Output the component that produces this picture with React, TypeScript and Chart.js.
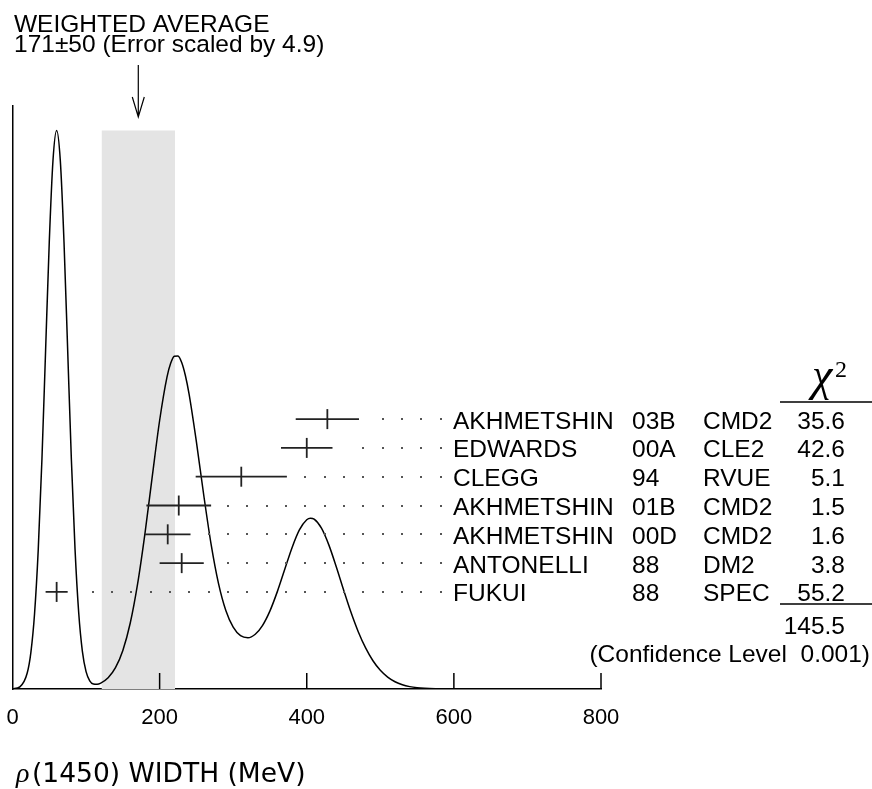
import React, { useEffect, useRef } from 'react';
import { Chart, registerables } from 'chart.js';

Chart.register(...registerables);

// ---- Data ----
const names = ['AKHMETSHIN', 'EDWARDS', 'CLEGG', 'AKHMETSHIN', 'AKHMETSHIN', 'ANTONELLI', 'FUKUI'];
const years = ['03B', '00A', '94', '01B', '00D', '88', '88'];
const experiments = ['CMD2', 'CLE2', 'RVUE', 'CMD2', 'CMD2', 'DM2', 'SPEC'];
const values = [428, 400, 311, 226, 211, 230, 60];
const errors = [43, 35, 62, 44, 31, 30, 15];
const chi2 = ['35.6', '42.6', '5.1', '1.5', '1.6', '3.8', '55.2'];
const chi2Total = '145.5';
const confidenceLevel = '0.001';
const avgValue = 171;
const avgError = 50;
const errorScale = '4.9';
const xTicks = [0, 200, 400, 600, 800];

// ideogram curve (MeV, arbitrary height units)
const curveX = [0, 10, 20, 25, 30, 35, 40, 45, 50, 55, 60, 65, 70, 75, 80, 85, 90, 95, 100, 105, 110, 115, 120, 130, 140, 150, 160, 170, 180, 190, 200, 210, 215, 220, 225, 230, 235, 240, 250, 260, 270, 280, 290, 300, 310, 320, 330, 340, 350, 360, 370, 380, 390, 400, 405, 410, 420, 430, 440, 450, 460, 470, 480, 490, 500, 510, 520, 530, 540, 550, 560, 575, 600, 650, 700, 800];
const curveY = [0.015, 0.172, 1.27, 2.92, 6.01, 11.09, 18.27, 26.96, 35.59, 42.04, 44.45, 42.05, 35.6, 26.97, 18.3, 11.13, 6.07, 3.0, 1.38, 0.654, 0.401, 0.379, 0.474, 0.9, 1.7, 3.07, 5.23, 8.34, 12.35, 16.92, 21.37, 24.82, 25.92, 26.49, 26.51, 25.99, 24.95, 23.49, 19.67, 15.42, 11.51, 8.41, 6.25, 4.92, 4.24, 4.08, 4.36, 5.07, 6.22, 7.75, 9.51, 11.25, 12.66, 13.47, 13.59, 13.52, 12.8, 11.47, 9.75, 7.9, 6.12, 4.56, 3.27, 2.25, 1.49, 0.95, 0.58, 0.34, 0.19, 0.1, 0.05, 0.016, 0.002, 0, 0, 0];

const SANS = '"Liberation Sans", Arial, Helvetica, sans-serif';
const SERIF = '"Liberation Serif", "Times New Roman", serif';
const FONT_SIZE = 24.5;

const overlayPlugin = {
  id: 'pdgOverlay',
  afterDraw(chart: any) {
    const ctx = chart.ctx as CanvasRenderingContext2D;
    const xs = chart.scales.x;
    const rs = chart.scales.rows;
    const area = chart.chartArea;
    ctx.save();

    // inward tick marks
    ctx.strokeStyle = '#000';
    ctx.lineWidth = 1.5;
    xTicks.slice(1).forEach((v) => {
      const px = xs.getPixelForValue(v);
      ctx.beginPath();
      ctx.moveTo(px, area.bottom);
      ctx.lineTo(px, area.bottom - 16);
      ctx.stroke();
    });

    // dotted leaders
    ctx.fillStyle = '#555';
    const dotEnd = 440.7;
    const dotStep = 19.33;
    values.forEach((v, i) => {
      const y = rs.getPixelForValue(i);
      const barEnd = xs.getPixelForValue(v + errors[i]);
      for (let x = dotEnd; x >= barEnd + 15; x -= dotStep) {
        ctx.fillRect(Math.round(x) - 1, Math.round(y) - 1, 2, 2);
      }
    });

    // table text
    ctx.fillStyle = '#000';
    ctx.font = `${FONT_SIZE}px ${SANS}`;
    ctx.textBaseline = 'alphabetic';
    names.forEach((n, i) => {
      const y = rs.getPixelForValue(i) + 9.5;
      ctx.textAlign = 'left';
      ctx.fillText(n, 453, y);
      ctx.fillText(years[i], 632, y);
      ctx.fillText(experiments[i], 703, y);
      ctx.textAlign = 'right';
      ctx.fillText(chi2[i], 845, y);
    });
    ctx.textAlign = 'right';
    ctx.fillText(chi2Total, 845, 633.5);
    ctx.fillText(`(Confidence Level  ${confidenceLevel})`, 870, 661.5);

    // chi^2 header and rules
    ctx.textAlign = 'center';
    ctx.font = `italic 46px ${SERIF}`;
    ctx.fillText('\u03C7', 822, 390);
    ctx.textAlign = 'left';
    ctx.font = `24px ${SERIF}`;
    ctx.fillText('2', 835, 377);
    ctx.lineWidth = 1.5;
    ctx.beginPath();
    ctx.moveTo(780, 402);
    ctx.lineTo(872, 402);
    ctx.moveTo(780, 604);
    ctx.lineTo(872, 604);
    ctx.stroke();

    // title
    ctx.font = `${FONT_SIZE}px ${SANS}`;
    ctx.textAlign = 'left';
    ctx.fillText('WEIGHTED AVERAGE', 14, 32);
    ctx.fillText(`${avgValue}\u00B1${avgError} (Error scaled by ${errorScale})`, 14, 52);

    // arrow
    const ax = xs.getPixelForValue(avgValue);
    ctx.lineWidth = 1.2;
    ctx.beginPath();
    ctx.moveTo(ax, 65);
    ctx.lineTo(ax, 117);
    ctx.moveTo(ax - 6, 97);
    ctx.lineTo(ax, 117);
    ctx.lineTo(ax + 6, 97);
    ctx.stroke();

    // x-axis title
    ctx.font = `italic 28px ${SERIF}`;
    ctx.fillText('\u03C1', 16, 782);
    ctx.font = `26.5px "DejaVu Sans", sans-serif`;
    ctx.fillText('(1450) WIDTH (MeV)', 32, 782);

    ctx.restore();
  },
};

export default function App() {
  const ref = useRef<HTMLCanvasElement>(null);

  useEffect(() => {
    if (!ref.current) return;
    const bandTop = Math.max(...curveY);
    const barData: any[] = [];
    values.forEach((v, i) => {
      barData.push({ x: v - errors[i], y: i });
      barData.push({ x: v + errors[i], y: i });
      barData.push({ x: v + errors[i], y: null });
    });

    const chart = new Chart(ref.current, {
      type: 'line',
      data: {
        datasets: [
          {
            label: 'centers',
            type: 'scatter',
            data: values.map((v, i) => ({ x: v, y: i })),
            xAxisID: 'x',
            yAxisID: 'rows',
            pointStyle: 'line',
            rotation: 90,
            pointRadius: 10,
            borderColor: '#222',
            backgroundColor: '#222',
            borderWidth: 1.8,
            clip: false,
          } as any,
          {
            label: 'bars',
            data: barData,
            xAxisID: 'x',
            yAxisID: 'rows',
            borderColor: '#222',
            borderWidth: 1.8,
            pointRadius: 0,
            spanGaps: false,
            fill: false,
            clip: false,
          } as any,
          {
            label: 'ideogram',
            data: curveX.map((x, i) => ({ x, y: curveY[i] })),
            xAxisID: 'x',
            yAxisID: 'y',
            borderColor: '#000',
            borderWidth: 1.5,
            pointRadius: 0,
            cubicInterpolationMode: 'monotone',
            fill: false,
          } as any,
          {
            label: 'band',
            data: [
              { x: avgValue - avgError, y: bandTop },
              { x: avgValue + avgError, y: bandTop },
            ],
            xAxisID: 'x',
            yAxisID: 'y',
            borderWidth: 0,
            borderColor: 'rgba(0,0,0,0)',
            backgroundColor: '#e4e4e4',
            pointRadius: 0,
            fill: 'origin',
          } as any,
        ],
      },
      options: {
        animation: false,
        responsive: false,
        devicePixelRatio: 1,
        layout: { padding: { left: 12.5, right: 271, top: 106, bottom: 0 } },
        plugins: { legend: { display: false }, tooltip: { enabled: false } },
        scales: {
          x: {
            type: 'linear',
            axis: 'x',
            position: 'bottom',
            min: 0,
            max: 800,
            afterBuildTicks: (s: any) => {
              s.ticks = xTicks.map((v) => ({ value: v }));
            },
            afterFit: (s: any) => {
              s.height = 100;
              s.paddingLeft = 0;
              s.paddingRight = 0;
            },
            ticks: {
              font: { family: SANS, size: 22 },
              color: '#000',
              padding: 16,
              maxRotation: 0,
              autoSkip: false,
            },
            grid: { display: true, drawOnChartArea: false, drawTicks: false },
            border: { display: true, color: '#000', width: 1.5 },
          },
          y: {
            type: 'linear',
            axis: 'y',
            position: 'left',
            min: 0,
            max: 46.4,
            afterFit: (s: any) => {
              s.width = 0;
              s.paddingTop = 0;
              s.paddingBottom = 0;
            },
            ticks: { display: false },
            grid: { display: true, drawOnChartArea: false, drawTicks: false },
            border: { display: true, color: '#000', width: 1.5 },
          },
          rows: {
            type: 'linear',
            axis: 'y',
            position: 'right',
            display: false,
            reverse: true,
            min: -10.87,
            max: 9.37,
          },
        },
      } as any,
      plugins: [overlayPlugin],
    });
    return () => chart.destroy();
  }, []);

  return (
    <div style={{ position: 'fixed', left: 0, top: 0, width: 872, height: 789, background: '#fff' }}>
      <canvas ref={ref} width={872} height={789} style={{ width: 872, height: 789, display: 'block' }} />
    </div>
  );
}
